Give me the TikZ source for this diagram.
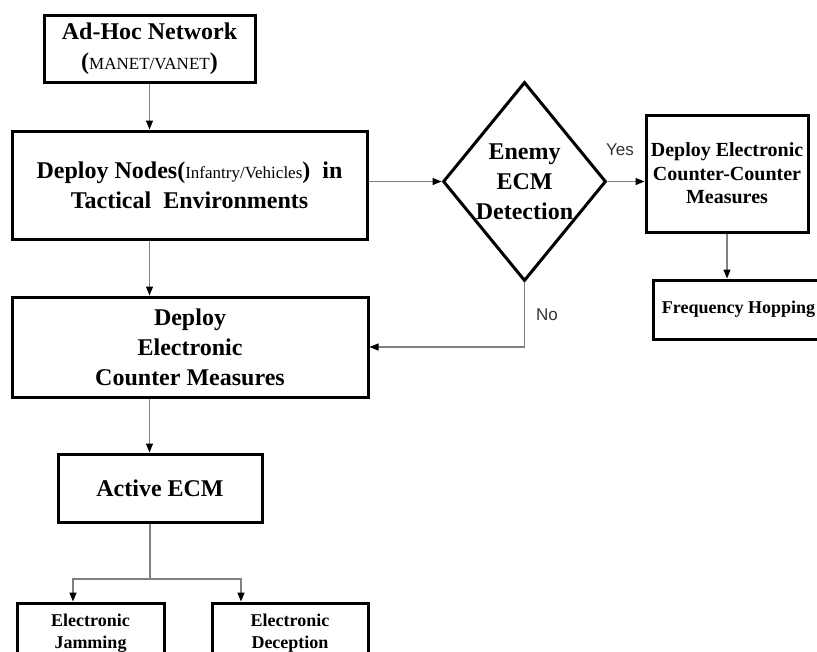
\documentclass[tikz,border=0pt]{standalone}
\usepackage{fontspec}
\setmainfont{Liberation Serif}
\newfontfamily\labelfont{Liberation Sans}
\usetikzlibrary{arrows.meta,shapes.geometric}

\tikzset{
	box/.style={draw=black, line width=3pt, align=center, inner sep=0pt, font=\bfseries\fontsize{24}{30}\selectfont},
	decision/.style={diamond, draw=black, line width=3pt, inner sep=0pt, minimum width=163pt, minimum height=199pt},
	link/.style={draw=black!50, line width=1.2pt},
	arrow/.style={link, -{Triangle[length=9pt,width=7pt,color=black]}},
	answer/.style={font=\labelfont\fontsize{17}{20}\selectfont, text=black!80},
}
\newcommand{\thin}[1]{{\mdseries\fontsize{17}{30}\selectfont #1}}

\begin{document}
\begin{tikzpicture}[x=1pt, y=-1pt]
			%%%%% START %%%%%
			\useasboundingbox (0, 0) rectangle (817, 651);
			\clip (0, 0) rectangle (817, 651);
			
			\node[box, minimum width=211pt, minimum height=67pt] (adhoc) at (149.5, 48.5) {Ad-Hoc Network\\(\thin{MANET/VANET})};
			\node[box, minimum width=355pt, minimum height=108pt] (deploy) at (189.5, 185) {Deploy Nodes(\thin{Infantry/Vehicles})\ \ in\\Tactical\ \ Environments};
			\node[box, minimum width=356pt, minimum height=100pt] (ecm) at (190, 347) {Deploy\\Electronic\\Counter Measures};
			\node[box, minimum width=204pt, minimum height=68pt] (active) at (160, 488) {Active ECM};
			\node[box, font=\bfseries\fontsize{18}{22}\selectfont, minimum width=147pt, minimum height=60pt] (jam) at (90.5, 633) {Electronic\\Jamming};
			\node[box, font=\bfseries\fontsize{18}{22}\selectfont, minimum width=156pt, minimum height=60pt] (decept) at (290, 633) {Electronic\\Deception};
			
			\node[decision] (detect) at (524.5, 181.5) {};
			\node[align=center, font=\bfseries\fontsize{24}{30}\selectfont] (detecttxt) at (detect) {Enemy\\ECM\\Detection};
			
			\node[box, font=\bfseries\fontsize{20}{23.5}\selectfont, minimum width=162pt, minimum height=117pt] (eccm) at (727, 173.5) {Deploy Electronic\\Counter-Counter\\Measures};
			\node[box, font=\bfseries\fontsize{18}{22}\selectfont, minimum width=171pt, minimum height=59pt] (hop) at (738.5, 309.5) {Frequency Hopping};
			
			\node[answer] (yes) at (620, 150) {Yes};
			\node[answer] (no) at (547, 315) {No};
			
			\draw[arrow] (adhoc.south) -- (adhoc.south |- deploy.north);
			\draw[arrow] (adhoc.south |- deploy.south) -- (adhoc.south |- ecm.north);
			\draw[arrow] (adhoc.south |- ecm.south) -- (adhoc.south |- active.north);
			\draw[arrow] (deploy.east |- detect.west) -- (detect.west);
			\draw[arrow] (detect.east) -- (detect.east -| eccm.west);
			\draw[arrow] (eccm.south) -- (eccm.south |- hop.north);
			\draw[arrow] (detect.south) |- (ecm.east);
			
			\coordinate (fork) at (150, 579);
			\draw[link] (active.south -| fork) -- (fork);
			\draw[arrow] (fork) -| ([xshift=-17.5pt]jam.north);
			\draw[arrow] (fork) -| ([xshift=-49pt]decept.north);
			
			%%%%% END %%%%%
\end{tikzpicture}
\end{document}
